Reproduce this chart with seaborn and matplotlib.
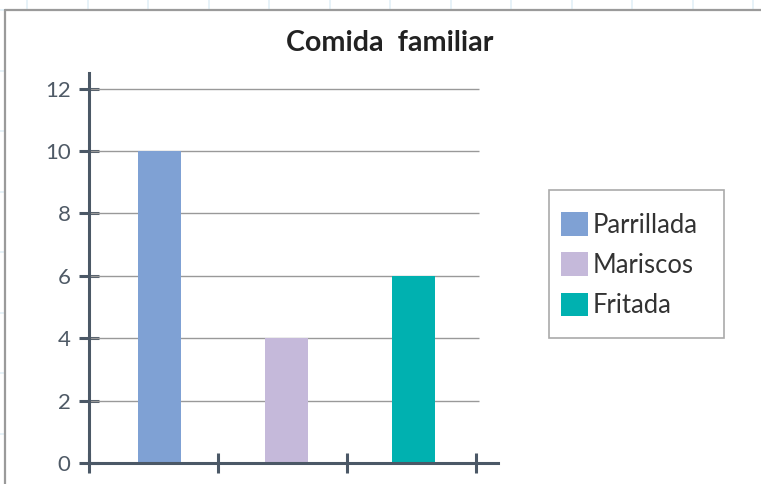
import matplotlib
matplotlib.use("Agg")
import matplotlib.pyplot as plt
from matplotlib.lines import Line2D
from matplotlib.patches import Rectangle
import seaborn as sns
import pandas as pd

# Data
categories = ["Parrillada", "Mariscos", "Fritada"]
values = [10, 4, 6]
colors = ["#7fa1d4", "#c5b9da", "#00b1b0"]
y_ticks = [0, 2, 4, 6, 8, 10, 12]

df = pd.DataFrame({"comida": categories, "cantidad": values})

sns.set_theme(style="white")
plt.rcParams["font.family"] = ["Lato", "DejaVu Sans"]

W, H = 761, 484
fig = plt.figure(figsize=(W / 100, H / 100), dpi=100)
fig.patch.set_facecolor("white")


def px(x, y):
    """Pixel coordinates (from top-left) to figure fraction."""
    return x / W, 1 - y / H


# Faint worksheet grid around the chart object
grid_c = "#e3f0f7"
gx = 27
while gx < W:
    fig.add_artist(Line2D([gx / W, gx / W], [1, px(0, 10)[1]], color=grid_c, lw=1.2,
                          transform=fig.transFigure, zorder=0))
    gx += 60.5
gy = 10
while gy < H:
    fig.add_artist(Line2D([0, 5 / W], [px(0, gy)[1]] * 2, color=grid_c, lw=1.2,
                          transform=fig.transFigure, zorder=0))
    gy += 60.5

# Chart object border (top and left edges visible)
frame_c = "#9a9a9a"
fig.add_artist(Line2D([5 / W, 1], [px(0, 10)[1]] * 2, color=frame_c, lw=1.6,
                      transform=fig.transFigure, zorder=1))
fig.add_artist(Line2D([5 / W, 5 / W], [0, px(0, 10)[1]], color=frame_c, lw=1.6,
                      transform=fig.transFigure, zorder=1))

# Plot area
left, top = px(89, 73)
right, bottom = px(498, 463)
ax = fig.add_axes([left, bottom, right - left, top - bottom])
ax.set_facecolor("none")

sns.barplot(data=df, x="comida", y="cantidad", hue="comida", palette=colors,
            width=0.339, dodge=False, saturation=1, legend=True, linewidth=0,
            ax=ax, zorder=3)

x_lo, x_hi = -0.555, 2.665
ax.set_xlim(x_lo, x_hi)
ax.set_ylim(0, 12.5)

# Horizontal gridlines
for t in y_ticks[1:]:
    ax.hlines(t, x_lo, 2.516, color="#999999", lw=1.0, zorder=1)

axis_c = "#4b5866"
for s in ["top", "right"]:
    ax.spines[s].set_visible(False)
for s in ["left", "bottom"]:
    ax.spines[s].set_color(axis_c)
    ax.spines[s].set_linewidth(2.2)
    ax.spines[s].set_zorder(4)

ax.set_yticks(y_ticks)
ax.set_yticklabels([str(t) for t in y_ticks])
ax.set_xticks([x_lo, 0.46, 1.476, 2.49])
ax.set_xticklabels([])
ax.tick_params(axis="both", direction="inout", length=14.4, width=2.2, color=axis_c,
               left=True, bottom=True)
ax.tick_params(axis="y", labelsize=16, labelcolor="#4f5a66", pad=6.0)
ax.tick_params(axis="x", labelbottom=False)
ax.set_xlabel("")
ax.set_ylabel("")

# Title
tx, ty = px(390, 43)
fig.text(tx, ty, "Comida  familiar", ha="center", va="center", fontsize=20.6,
         fontweight="bold", color="#222222")

# Legend: entries without their own frame, boxed separately
handles, labels = ax.get_legend_handles_labels()
if ax.legend_:
    ax.legend_.remove()
fx0, fy0 = px(549, 338)
fx1, fy1 = px(724, 190)
fig.add_artist(Rectangle((fx0, fy0), fx1 - fx0, fy1 - fy0, transform=fig.transFigure,
                         facecolor="white", edgecolor="#aaaaaa", lw=1.2, zorder=2))
lx, ly = px(561, 212)
leg = fig.legend(handles, labels, loc="upper left", bbox_to_anchor=(lx, ly),
                 bbox_transform=fig.transFigure, borderaxespad=0, fontsize=18.4,
                 frameon=False, handlelength=1.05, handleheight=1.05,
                 handletextpad=0.2, labelspacing=0.58, borderpad=0.0)
leg.set_zorder(3)
for t in leg.get_texts():
    t.set_color("#333333")

fig.savefig("out.png", dpi=100, facecolor="white")
